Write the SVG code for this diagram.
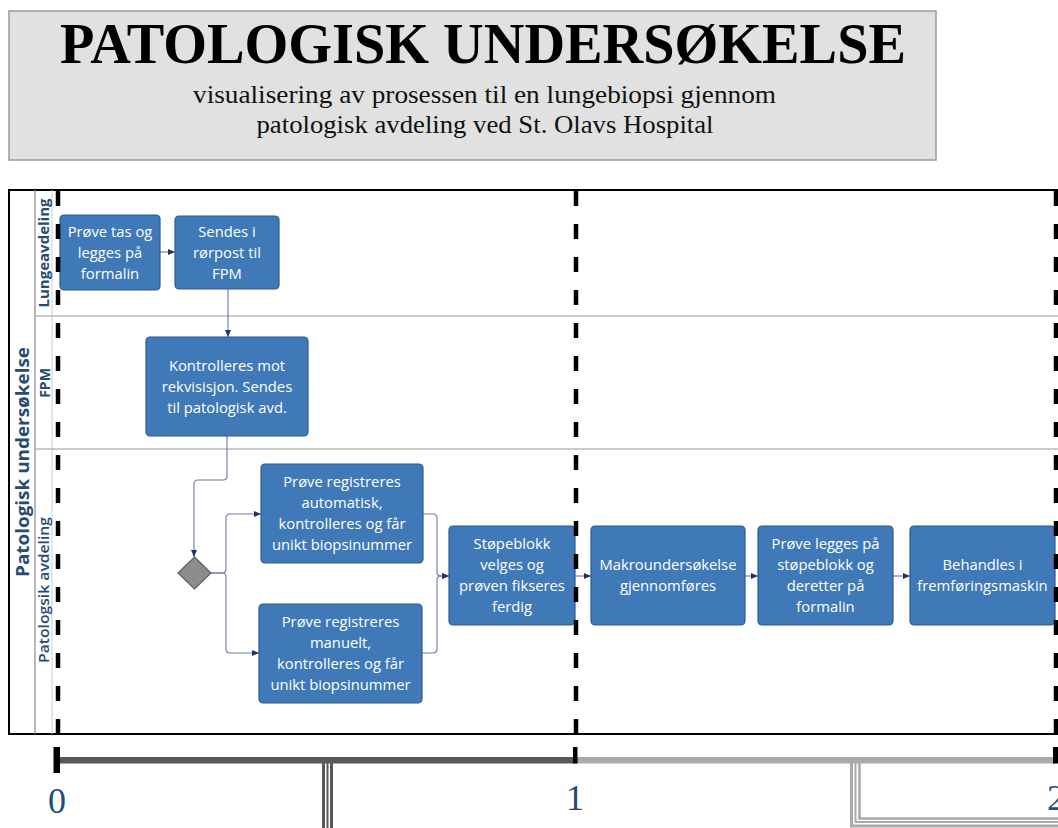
<svg xmlns="http://www.w3.org/2000/svg" width="1058" height="828" viewBox="0 0 1058 828">
<style>
.box{fill:#3f79b8;stroke:#2d5b8e;stroke-width:1.2}
.bt{font-family:"Open Sans","DejaVu Sans",sans-serif;font-size:14.8px;fill:#ffffff;text-anchor:middle}
.con{fill:none;stroke:#6a78a6;stroke-width:1.1}
.lane{font-family:"Open Sans","DejaVu Sans",sans-serif;fill:#284b72;text-anchor:middle}
.dash{stroke:#000;stroke-width:4.5;stroke-dasharray:15 18;fill:none}
.num{font-family:"Liberation Serif",serif;font-size:36px;fill:#1f4e79;text-anchor:middle}
</style>
<defs>
<marker id="arr" markerUnits="userSpaceOnUse" markerWidth="7" markerHeight="6" refX="7" refY="3" orient="auto">
<path d="M0,0 L7,3 L0,6 z" fill="#22306e"/>
</marker>
</defs>
<rect width="1058" height="828" fill="#ffffff"/>
<g id="title">
<rect x="9" y="11" width="927" height="149" fill="#e1e1e1" stroke="#9a9a9a" stroke-width="1.5"/>
<text x="483" y="63" font-family="Liberation Serif,serif" font-weight="bold" font-size="56" text-anchor="middle" textLength="846" lengthAdjust="spacingAndGlyphs" fill="#000">PATOLOGISK UNDERSØKELSE</text>
<text x="484.5" y="103" font-family="Liberation Serif,serif" font-size="26" text-anchor="middle" textLength="583" lengthAdjust="spacingAndGlyphs" fill="#111">visualisering av prosessen til en lungebiopsi gjennom</text>
<text x="485" y="133" font-family="Liberation Serif,serif" font-size="26" text-anchor="middle" textLength="457" lengthAdjust="spacingAndGlyphs" fill="#111">patologisk avdeling ved St. Olavs Hospital</text>
</g>
<g id="pool">
<rect x="9" y="190" width="1070" height="544" fill="#ffffff" stroke="#000" stroke-width="2"/>
<line x1="35" y1="190" x2="35" y2="734" stroke="#8a8a8a" stroke-width="1.2"/>
<line x1="52" y1="190" x2="52" y2="734" stroke="#cccccc" stroke-width="1"/>
<line x1="35" y1="316" x2="1058" y2="316" stroke="#9a9a9a" stroke-width="1.2"/>
<line x1="35" y1="449" x2="1058" y2="449" stroke="#9a9a9a" stroke-width="1.2"/>
<text class="lane" transform="translate(29,462) rotate(-90)" font-size="18" font-weight="bold" textLength="230" lengthAdjust="spacingAndGlyphs">Patologisk undersøkelse</text>
<text class="lane" transform="translate(49,253) rotate(-90)" font-size="14" font-weight="bold" textLength="109" lengthAdjust="spacingAndGlyphs">Lungeavdeling</text>
<text class="lane" transform="translate(49.5,383) rotate(-90)" font-size="14" font-weight="bold">FPM</text>
<text class="lane" transform="translate(49,590) rotate(-90)" font-size="14" font-weight="600" textLength="146" lengthAdjust="spacingAndGlyphs">Patologsik avdeling</text>
</g>
<g id="connectors">
<path class="con" d="M160 252 H175" marker-end="url(#arr)"/>
<path class="con" d="M228 289 V337" marker-end="url(#arr)"/>
<path class="con" d="M227 436 V476 Q227 480 223 480 H198 Q194 480 194 484 V557" marker-end="url(#arr)"/>
<path class="con" d="M211 573 H222 Q226 573 226 569 V518 Q226 514 230 514 H261" marker-end="url(#arr)"/>
<path class="con" d="M211 573 H222 Q226 573 226 577 V649 Q226 653 230 653 H259" marker-end="url(#arr)"/>
<path class="con" d="M423 514 H433 Q437 514 437 518 V572 Q437 576 441 576 H449" marker-end="url(#arr)"/>
<path class="con" d="M422 653 H433 Q437 653 437 649 V580 Q437 576 441 576 H449" marker-end="url(#arr)"/>
<path class="con" d="M575 576 H591" marker-end="url(#arr)"/>
<path class="con" d="M745 576 H758" marker-end="url(#arr)"/>
<path class="con" d="M893 576 H910" marker-end="url(#arr)"/>
</g>
<g id="n1"><rect class="box" x="60" y="215" width="100" height="75" rx="4"/>
<text class="bt"><tspan x="110" y="236.5">Prøve tas og</tspan><tspan x="110" y="257.5">legges på</tspan><tspan x="110" y="278.5">formalin</tspan></text></g>
<g id="n2"><rect class="box" x="175" y="216" width="104" height="73" rx="4"/>
<text class="bt"><tspan x="227" y="236.5">Sendes i</tspan><tspan x="227" y="257.5">rørpost til</tspan><tspan x="227" y="278.5">FPM</tspan></text></g>
<g id="n3"><rect class="box" x="146" y="337" width="162" height="99" rx="4"/>
<text class="bt"><tspan x="227" y="370.5">Kontrolleres mot</tspan><tspan x="227" y="391.5">rekvisisjon. Sendes</tspan><tspan x="227" y="412.5">til patologisk avd.</tspan></text></g>
<g id="gateway"><path d="M194.5 557 L211 573 L194.5 589 L178 573 Z" fill="#8c8c8c" stroke="#5e5e5e" stroke-width="1.2"/></g>
<g id="n4"><rect class="box" x="261" y="464" width="162" height="99" rx="4"/>
<text class="bt"><tspan x="342" y="487">Prøve registreres</tspan><tspan x="342" y="508">automatisk,</tspan><tspan x="342" y="529">kontrolleres og får</tspan><tspan x="342" y="550">unikt biopsinummer</tspan></text></g>
<g id="n5"><rect class="box" x="259" y="604" width="163" height="99" rx="4"/>
<text class="bt"><tspan x="340.5" y="627">Prøve registreres</tspan><tspan x="340.5" y="648">manuelt,</tspan><tspan x="340.5" y="669">kontrolleres og får</tspan><tspan x="340.5" y="690">unikt biopsinummer</tspan></text></g>
<g id="n6"><rect class="box" x="449" y="526" width="126" height="99" rx="4"/>
<text class="bt"><tspan x="512" y="549">Støpeblokk</tspan><tspan x="512" y="570">velges og</tspan><tspan x="512" y="591">prøven fikseres</tspan><tspan x="512" y="612">ferdig</tspan></text></g>
<g id="n7"><rect class="box" x="591" y="526" width="154" height="99" rx="4"/>
<text class="bt"><tspan x="668" y="570">Makroundersøkelse</tspan><tspan x="668" y="591">gjennomføres</tspan></text></g>
<g id="n8"><rect class="box" x="758" y="526" width="135" height="99" rx="4"/>
<text class="bt"><tspan x="825.5" y="549">Prøve legges på</tspan><tspan x="825.5" y="570">støpeblokk og</tspan><tspan x="825.5" y="591">deretter på</tspan><tspan x="825.5" y="612">formalin</tspan></text></g>
<g id="n9"><rect class="box" x="910" y="526" width="145" height="99" rx="4"/>
<text class="bt"><tspan x="982.5" y="570">Behandles i</tspan><tspan x="982.5" y="591">fremføringsmaskin</tspan></text></g>
<g id="phases">
<line class="dash" x1="58" y1="191" x2="58" y2="734"/>
<line class="dash" x1="576" y1="191" x2="576" y2="734"/>
<line class="dash" x1="1056" y1="191" x2="1056" y2="734"/>
</g>
<g id="timeline">
<line x1="323.5" y1="763" x2="323.5" y2="828" stroke="#595959" stroke-width="3"/>
<line x1="327.5" y1="763" x2="327.5" y2="828" stroke="#595959" stroke-width="2"/>
<line x1="331.5" y1="763" x2="331.5" y2="828" stroke="#595959" stroke-width="3"/>
<path d="M851.5 763 V826 H1060" fill="none" stroke="#a9a9a9" stroke-width="3"/>
<path d="M855.5 763 V822 H1060" fill="none" stroke="#a9a9a9" stroke-width="2"/>
<path d="M859.5 763 V818.5 H1060" fill="none" stroke="#a9a9a9" stroke-width="2.5"/>
<rect x="58" y="757" width="517" height="6.5" fill="#595959"/>
<rect x="576" y="757" width="480" height="6.5" fill="#a9a9a9"/>
<rect x="53.5" y="747" width="6.5" height="26" fill="#000"/>
<rect x="573" y="747" width="4.5" height="16.5" fill="#000"/>
<rect x="1053" y="747" width="5" height="16.5" fill="#000"/>
<text class="num" x="57" y="813">0</text>
<text class="num" x="575" y="810">1</text>
<text class="num" x="1056" y="810">2</text>
</g>
</svg>
